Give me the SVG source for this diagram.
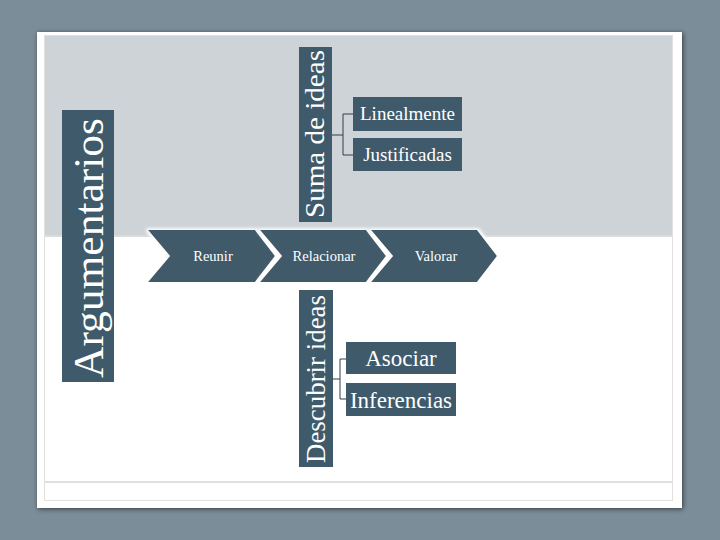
<svg xmlns="http://www.w3.org/2000/svg" width="720" height="540" viewBox="0 0 720 540">
<defs>
<filter id="sh" x="-10%" y="-10%" width="120%" height="120%">
<feGaussianBlur in="SourceAlpha" stdDeviation="2.5"/>
<feOffset dx="1" dy="1"/>
<feComponentTransfer><feFuncA type="linear" slope="0.6"/></feComponentTransfer>
<feMerge><feMergeNode/><feMergeNode in="SourceGraphic"/></feMerge>
</filter>
<filter id="glow" x="-10%" y="-20%" width="120%" height="140%">
<feMorphology in="SourceAlpha" operator="dilate" radius="2" result="d"/>
<feGaussianBlur in="d" stdDeviation="1.5" result="b"/>
<feFlood flood-color="#ffffff" flood-opacity="0.9"/>
<feComposite in2="b" operator="in" result="w"/>
<feMerge><feMergeNode in="w"/><feMergeNode in="SourceGraphic"/></feMerge>
</filter>
</defs>
<style>
.box{fill:#3f5a6b;}
.t{fill:#ffffff;font-family:"Liberation Serif","DejaVu Serif",serif;}
.ln{fill:none;stroke:#2f3f4a;stroke-width:1;}
</style>
<rect x="0" y="0" width="720" height="540" fill="#7b8d98"/>
<rect x="37" y="32" width="645" height="476" fill="#ffffff" filter="url(#sh)"/>
<rect x="44.5" y="35.5" width="628" height="465" fill="none" stroke="#e2e0dc" stroke-width="1"/>
<rect x="45" y="36" width="627" height="200" fill="#cdd3d7"/>
<line x1="45" y1="236" x2="672" y2="236" stroke="#d8dcdf" stroke-width="2"/>
<line x1="45" y1="482" x2="672" y2="482" stroke="#e2e0dc" stroke-width="2"/>

<g id="argumentarios">
<rect class="box" x="62" y="110" width="52" height="272"/>
<text class="t" transform="translate(103,378) rotate(-90)" font-size="43" textLength="260" lengthAdjust="spacingAndGlyphs">Argumentarios</text>
</g>

<g id="suma-de-ideas">
<rect class="box" x="299" y="47" width="33" height="175"/>
<text class="t" transform="translate(324,218) rotate(-90)" font-size="27" textLength="168" lengthAdjust="spacingAndGlyphs">Suma de ideas</text>
</g>
<g id="linealmente">
<rect class="box" x="353" y="97" width="109" height="34"/>
<text class="t" x="407.5" y="120" font-size="19" text-anchor="middle">Linealmente</text>
</g>
<g id="justificadas">
<rect class="box" x="353" y="138" width="109" height="33"/>
<text class="t" x="407.5" y="161" font-size="19" text-anchor="middle">Justificadas</text>
</g>

<g id="descubrir-ideas">
<rect class="box" x="299" y="290" width="34" height="177"/>
<text class="t" transform="translate(325,463) rotate(-90)" font-size="27" textLength="168" lengthAdjust="spacingAndGlyphs">Descubrir ideas</text>
</g>
<g id="asociar">
<rect class="box" x="346" y="342" width="110" height="32"/>
<text class="t" x="401" y="366" font-size="23" text-anchor="middle">Asociar</text>
</g>
<g id="inferencias">
<rect class="box" x="346" y="383" width="110" height="33"/>
<text class="t" x="401" y="408" font-size="23" text-anchor="middle">Inferencias</text>
</g>

<g id="reunir">
<polygon class="box" filter="url(#glow)" points="148,230 255,230 275,256 255,282 148,282 170,256"/>
<text class="t" x="213" y="261" font-size="14.5" text-anchor="middle">Reunir</text>
</g>
<g id="relacionar">
<polygon class="box" filter="url(#glow)" points="260,230 366,230 386,256 366,282 260,282 282,256"/>
<text class="t" x="324" y="261" font-size="14.5" text-anchor="middle">Relacionar</text>
</g>
<g id="valorar">
<polygon class="box" filter="url(#glow)" points="371,230 477,230 497,256 477,282 371,282 393,256"/>
<text class="t" x="436" y="261" font-size="14.5" text-anchor="middle">Valorar</text>
</g>

<g id="connectors">
<path class="ln" d="M332,135 H343 M343,114 V155 M343,114 H353 M343,155 H353"/>
<path class="ln" d="M333,379 H340 M340,359 V399 M340,359 H346 M340,399 H346"/>
</g>
</svg>
